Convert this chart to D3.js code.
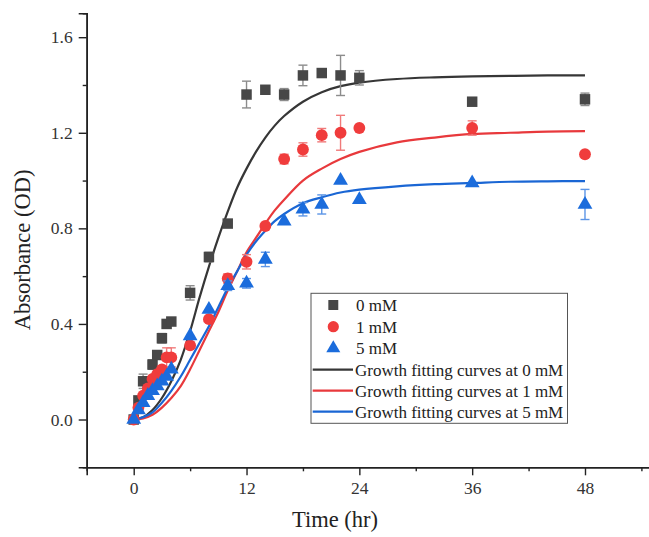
<!DOCTYPE html>
<html>
<head>
<meta charset="utf-8">
<script src="https://cdn.jsdelivr.net/npm/d3@7"></script>
<style>
  body { margin: 0; background: #fff; }
  svg text { font-family: "Liberation Serif", "Times New Roman", serif; }
</style>
</head>
<body>
<div class="chart"></div>
<script>
var svgWidth = 649;
var svgHeight = 537;

// measured times (hr)
var times = [0, 0.5, 1, 1.5, 2, 2.5, 3, 3.5, 4, 6, 8, 10, 12, 14, 16, 18, 20, 22, 24, 36, 48];

var od0 = [0, 0.08, 0.16, 0.16, 0.23, 0.27, 0.34, 0.40, 0.41, 0.53, 0.68, 0.82, 1.36, 1.38, 1.36, 1.44, 1.45, 1.44, 1.43, 1.33, 1.34];
var err0 = [0, 0.01, 0.03, 0.01, 0.02, 0.01, 0.02, 0.01, 0.01, 0.03, 0.02, 0.01, 0.056, 0.01, 0.025, 0.043, 0.01, 0.084, 0.03, 0.01, 0.026];

var od1 = [0, 0.05, 0.10, 0.13, 0.17, 0.19, 0.21, 0.26, 0.26, 0.31, 0.42, 0.59, 0.66, 0.81, 1.09, 1.13, 1.19, 1.20, 1.22, 1.22, 1.11];
var err1 = [0, 0.01, 0.01, 0.01, 0.01, 0.01, 0.01, 0.04, 0.04, 0.01, 0.01, 0.02, 0.03, 0.01, 0.02, 0.028, 0.028, 0.073, 0.01, 0.03, 0.01];

var od5 = [0, 0.04, 0.07, 0.10, 0.12, 0.14, 0.16, 0.18, 0.21, 0.35, 0.46, 0.56, 0.57, 0.67, 0.83, 0.88, 0.90, 1.00, 0.92, 0.99, 0.90];
var err5 = [0, 0.01, 0.01, 0.01, 0.01, 0.01, 0.01, 0.01, 0.01, 0.01, 0.01, 0.02, 0.02, 0.03, 0.01, 0.028, 0.04, 0.01, 0.01, 0.01, 0.063];

// fitted curves
var fitTimes = [0, 1, 2, 3, 4, 5, 6, 7, 8, 9, 10, 11, 12, 13, 14, 15, 16, 18, 20, 22, 24, 28, 32, 36, 40, 44, 48];
var fit0 = [0, 0.01, 0.04, 0.09, 0.16, 0.25, 0.37, 0.51, 0.64, 0.76, 0.87, 0.97, 1.05, 1.12, 1.18, 1.23, 1.27, 1.33, 1.37, 1.395, 1.41, 1.425, 1.432, 1.436, 1.438, 1.44, 1.44];
var fit1 = [0, 0.005, 0.02, 0.05, 0.09, 0.14, 0.21, 0.29, 0.37, 0.45, 0.54, 0.62, 0.70, 0.76, 0.82, 0.875, 0.92, 1.0, 1.05, 1.09, 1.12, 1.16, 1.18, 1.195, 1.20, 1.205, 1.207];
var fit5 = [0, 0.01, 0.03, 0.07, 0.12, 0.18, 0.25, 0.32, 0.39, 0.47, 0.55, 0.62, 0.69, 0.745, 0.79, 0.83, 0.86, 0.905, 0.93, 0.95, 0.962, 0.976, 0.985, 0.99, 0.995, 0.997, 0.998];

var xTicks = [0, 12, 24, 36, 48];
var xMinor = [6, 18, 30, 42, 54];
var yTicks = [0, 0.4, 0.8, 1.2, 1.6];
var yMinor = [0.2, 0.6, 1.0, 1.4];

var seriesNames = ["0 mM", "1 mM", "5 mM"];
var fitNames = ["Growth fitting curves at 0 mM", "Growth fitting curves at 1 mM", "Growth fitting curves at 5 mM"];

var colors = ["#474747", "#f03c3c", "#1b6cdc"];
var errColors = ["#8c8c8c", "#f07a7a", "#5c95e6"];
var lineColors = ["#363636", "#e8393c", "#1a66d4"];
var shapes = [d3.symbolSquare, d3.symbolCircle, d3.symbolTriangle];
var sizes = [110, 110, 95];

var mLeft = 86.7, mRight = 650.8, mTop = 13.3, mBottom = 467.3;

var svg = d3.select(".chart")
  .append("svg")
  .attr("width", svgWidth)
  .attr("height", svgHeight);

var xScale = d3.scaleLinear().domain([-5, 55]).range([mLeft, mRight]);
var yScale = d3.scaleLinear().domain([-0.2, 1.7]).range([mBottom, mTop]);

// axes
var bottomAxis = d3.axisBottom(xScale).tickValues(xTicks).tickSize(8).tickPadding(6).tickFormat(d3.format("d"));
var leftAxis = d3.axisLeft(yScale).tickValues(yTicks).tickSize(8).tickPadding(6).tickFormat(d3.format(".1f"));

svg.append("g").attr("transform", `translate(0, ${mBottom})`).call(bottomAxis);
svg.append("g").attr("transform", `translate(${mLeft}, 0)`).call(leftAxis);

svg.append("g").attr("transform", `translate(0, ${mBottom})`)
  .call(d3.axisBottom(xScale).tickValues(xMinor).tickSize(4).tickFormat(""));
svg.append("g").attr("transform", `translate(${mLeft}, 0)`)
  .call(d3.axisLeft(yScale).tickValues(yMinor).tickSize(4).tickFormat(""));

svg.selectAll(".domain").attr("stroke", "#222").attr("stroke-width", 1.6);
svg.selectAll(".tick line").attr("stroke", "#222").attr("stroke-width", 1.4);
svg.selectAll(".tick text")
  .attr("fill", "#333")
  .style("font-size", "17.5px")
  .style("font-family", "'Liberation Serif', serif");

svg.append("text")
  .attr("x", 335)
  .attr("y", 527)
  .attr("text-anchor", "middle")
  .attr("font-size", 22.5)
  .attr("fill", "#222")
  .text("Time (hr)");

svg.append("text")
  .attr("transform", `translate(30, ${yScale(0.71)}) rotate(-90)`)
  .attr("text-anchor", "middle")
  .attr("font-size", 22.5)
  .attr("fill", "#222")
  .text("Absorbance (OD)");

// fitted curves
var fits = [fit0, fit1, fit5];
var line = d3.line()
  .x(d => xScale(d[0]))
  .y(d => yScale(d[1]))
  .curve(d3.curveCatmullRom.alpha(0.5));

fits.forEach(function(f, i) {
  svg.append("path")
    .datum(fitTimes.map((t, j) => [t, f[j]]))
    .attr("d", line)
    .attr("fill", "none")
    .attr("stroke", lineColors[i])
    .attr("stroke-width", 2.2);
});

// data points with error bars
var ods = [od0, od1, od5];
var errs = [err0, err1, err5];

ods.forEach(function(od, i) {
  var data = times.map((t, j) => ({t: t, v: od[j], e: errs[i][j]}));
  var g = svg.append("g");

  var eb = g.selectAll(".eb")
    .data(data.filter(d => d.e >= 0.015))
    .enter()
    .append("g")
    .attr("stroke", errColors[i])
    .attr("stroke-width", 1.4);
  eb.append("line")
    .attr("x1", d => xScale(d.t)).attr("x2", d => xScale(d.t))
    .attr("y1", d => yScale(d.v - d.e)).attr("y2", d => yScale(d.v + d.e));
  eb.append("line")
    .attr("x1", d => xScale(d.t) - 4.5).attr("x2", d => xScale(d.t) + 4.5)
    .attr("y1", d => yScale(d.v - d.e)).attr("y2", d => yScale(d.v - d.e));
  eb.append("line")
    .attr("x1", d => xScale(d.t) - 4.5).attr("x2", d => xScale(d.t) + 4.5)
    .attr("y1", d => yScale(d.v + d.e)).attr("y2", d => yScale(d.v + d.e));

  g.selectAll(".pt")
    .data(data)
    .enter()
    .append("path")
    .attr("d", d3.symbol().type(shapes[i]).size(sizes[i]))
    .attr("transform", d => `translate(${xScale(d.t)}, ${yScale(d.v)})`)
    .attr("fill", colors[i]);
});

// legend
var lg = svg.append("g");
lg.append("rect")
  .attr("x", 311).attr("y", 293.3)
  .attr("width", 256.5).attr("height", 130)
  .attr("fill", "#fff")
  .attr("stroke", "#555")
  .attr("stroke-width", 1);

var rowY = [305, 326.7, 348.3, 369.7, 390.7, 411.7];

seriesNames.forEach(function(name, i) {
  lg.append("path")
    .attr("d", d3.symbol().type(shapes[i]).size(sizes[i] * 0.9))
    .attr("transform", `translate(333.3, ${rowY[i]})`)
    .attr("fill", colors[i]);
  lg.append("text")
    .attr("x", 356).attr("y", rowY[i] + 6)
    .attr("font-size", 17)
    .attr("fill", "#222")
    .text(name);
});

fitNames.forEach(function(name, i) {
  var y = rowY[i + 3];
  lg.append("line")
    .attr("x1", 312.7).attr("x2", 353)
    .attr("y1", y).attr("y2", y)
    .attr("stroke", lineColors[i])
    .attr("stroke-width", 2.2);
  lg.append("text")
    .attr("x", 355).attr("y", y + 6)
    .attr("font-size", 17)
    .attr("fill", "#222")
    .text(name);
});
</script>
</body>
</html>
